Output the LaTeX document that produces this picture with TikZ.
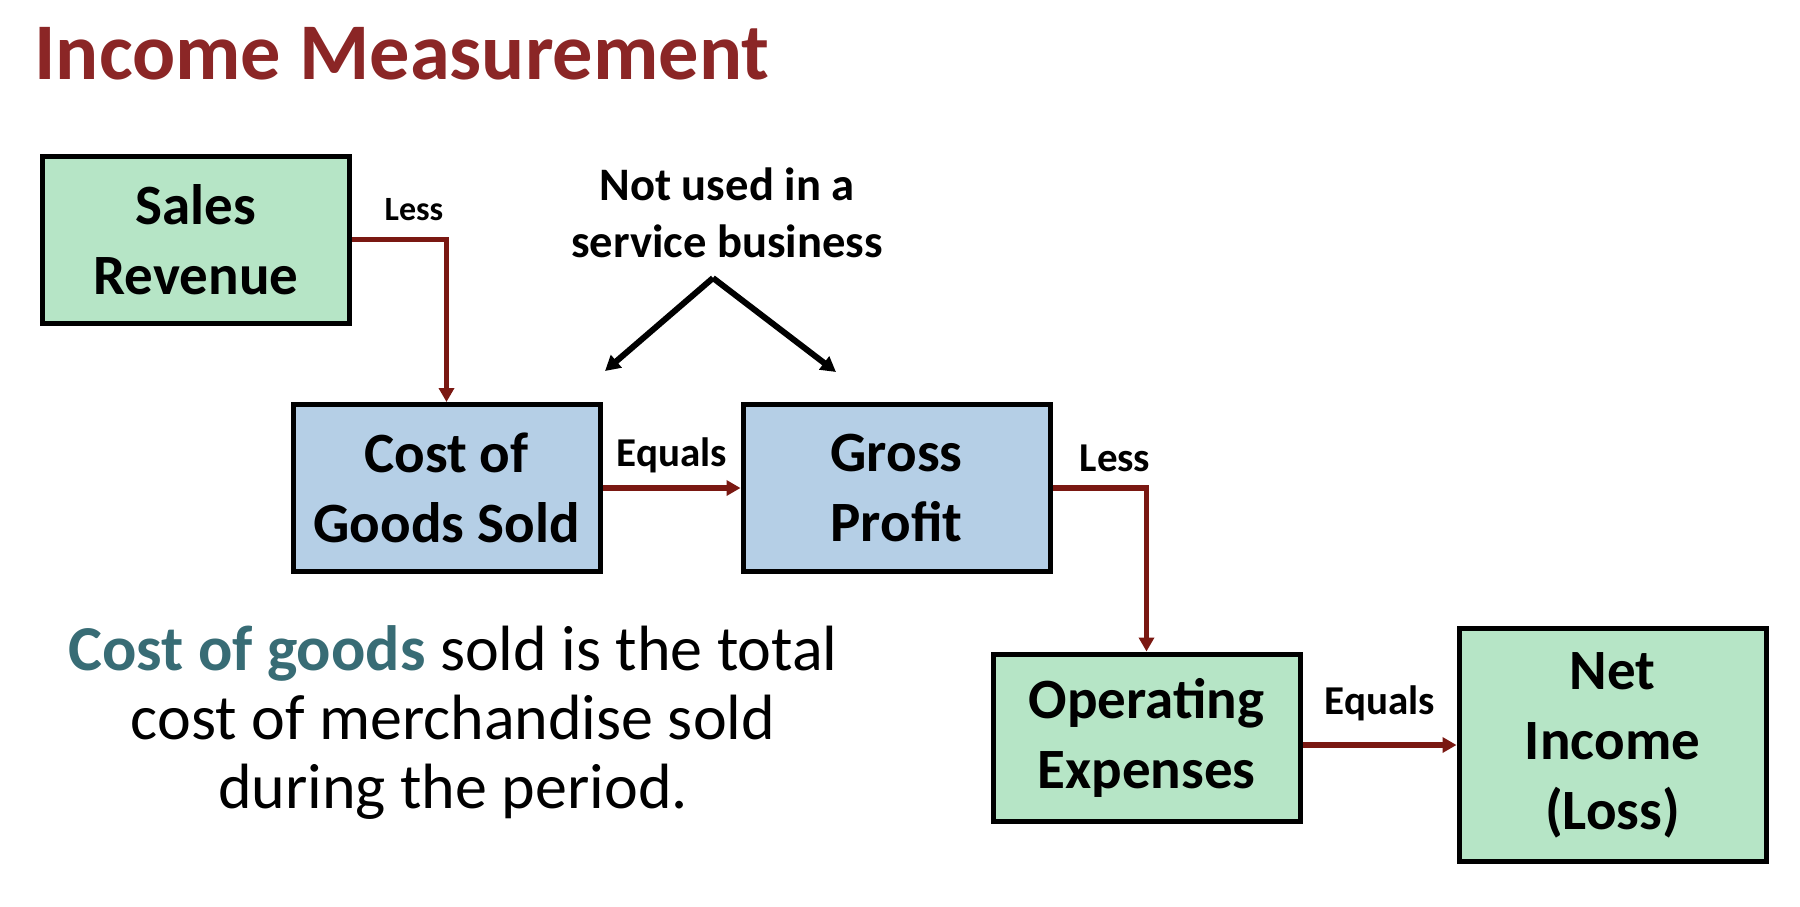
\documentclass[tikz,border=0pt]{standalone}
\usepackage{fontspec}
\setmainfont{Carlito}
\usetikzlibrary{arrows.meta}
\definecolor{titlered}{RGB}{139,38,38}
\definecolor{linkred}{RGB}{122,24,18}
\definecolor{boxgreen}{RGB}{182,229,198}
\definecolor{boxblue}{RGB}{181,207,230}
\definecolor{keyteal}{RGB}{56,108,117}
\begin{document}
\begin{tikzpicture}[x=0.5pt,y=-0.5pt,
  stagebox/.style={draw=black, line width=2.5pt, minimum width=153.5pt,
    minimum height=83.5pt, inner sep=0pt, align=center,
    font=\bfseries\fontsize{28.5}{35}\selectfont},
  greenbox/.style={stagebox, fill=boxgreen},
  bluebox/.style={stagebox, fill=boxblue},
  flow/.style={draw=linkred, line width=2.75pt, -{Triangle[length=7pt,width=7.5pt]}},
  pointer/.style={draw=black, line width=3pt, -{Triangle[length=7.5pt,width=8pt]}},
  steplabel/.style={font=\bfseries\fontsize{20.5}{24}\selectfont, inner sep=0pt},
  smalllabel/.style={font=\bfseries\fontsize{17}{20}\selectfont, inner sep=0pt}
]
\useasboundingbox (0,0) rectangle (1800,906);

% heading
\node[anchor=base west, inner sep=0pt, text=titlered,
  font=\bfseries\fontsize{40.2}{46}\selectfont] (title) at (34,79) {Income Measurement};

% stages of the income statement
\node[greenbox] (sales) at (196,239.5) {Sales\\Revenue};
\node[bluebox]  (cogs)  at (446.5,488) {Cost of\\Goods Sold};
\node[bluebox]  (gross) at (896.5,488) {Gross\\Profit};
\node[greenbox] (opex)  at (1146.5,737.5) {Operating\\Expenses};
\node[greenbox, minimum height=116.5pt] (net) at (1612.5,745) {Net\\Income\\(Loss)};

% connectors
\draw[flow] (sales.east) -| (cogs.north);
\draw[flow] (cogs.east) -- (gross.west);
\draw[flow] (gross.east) -| (opex.north);
\draw[flow] (opex.east |- net.west) -- (net.west);

% connector labels
\node[smalllabel] (l1) at (414,210) {Less};
\node[steplabel] (l2) at (672,455) {Equals};
\node[steplabel] (l3) at (1115,458) {Less};
\node[steplabel] (l4) at (1380,703) {Equals};

% service business note
\node[align=center, inner sep=0pt, font=\bfseries\fontsize{23.3}{28.5}\selectfont]
  (note) at (727,213) {Not used in a\\service business};
\coordinate (apex) at (713,278);
\coordinate (tipL) at (605,371);
\coordinate (tipR) at (836,372);
\draw[pointer] (apex) -- (tipL);
\draw[pointer] (apex) -- (tipR);

% definition text
\node[align=center, inner sep=0pt, font=\fontsize{32}{34.5}\selectfont] (desc) at (453,723)
  {\textcolor{keyteal}{\bfseries Cost of goods} sold is the total\\cost of merchandise sold\\during the period.};
\end{tikzpicture}
\end{document}
